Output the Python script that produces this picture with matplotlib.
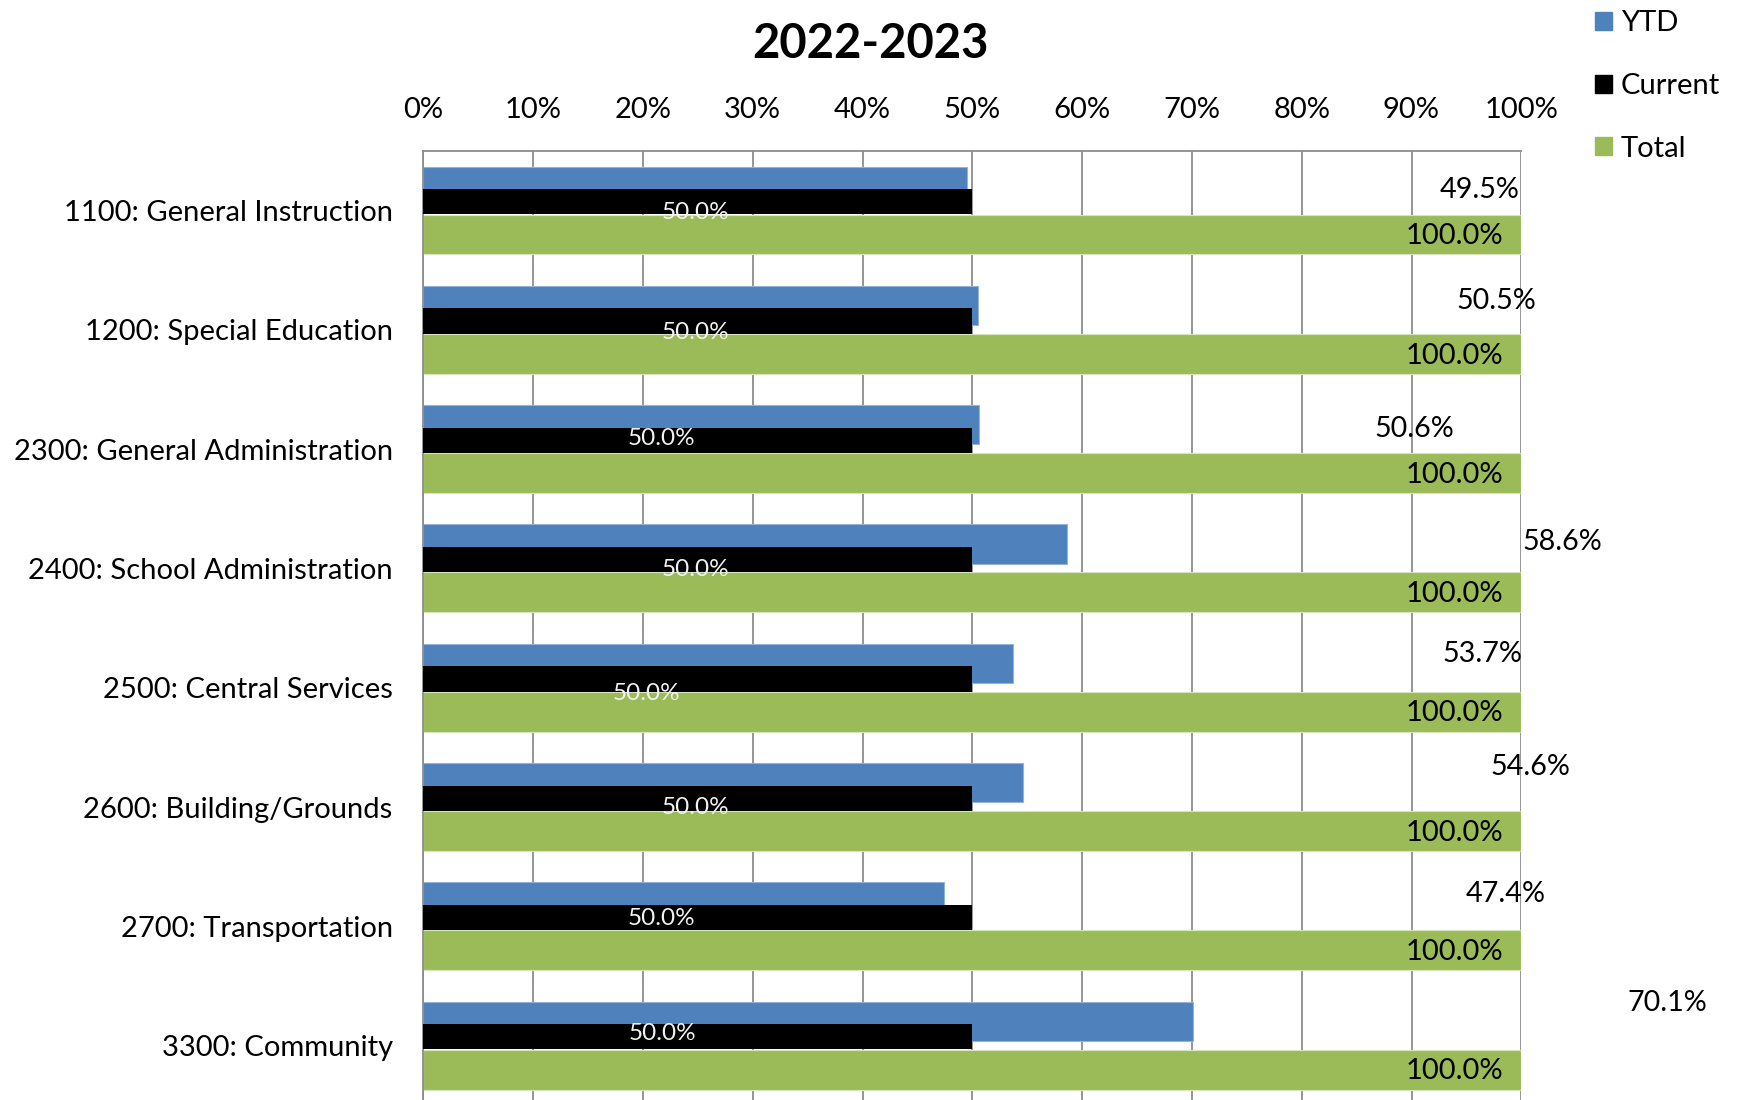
import numpy as np
import matplotlib.pyplot as plt

plt.rcParams['font.family'] = ['Lato', 'DejaVu Sans']

# budget spent per function, 2022-2023
categories = ['1100: General Instruction', '1200: Special Education',
              '2300: General Administration', '2400: School Administration',
              '2500: Central Services', '2600: Building/Grounds',
              '2700: Transportation', '3300: Community']
ytd = [49.5, 50.5, 50.6, 58.6, 53.7, 54.6, 47.4, 70.1]
current = [50.0, 50.0, 50.0, 50.0, 50.0, 50.0, 50.0, 50.0]
total = [100.0, 100.0, 100.0, 100.0, 100.0, 100.0, 100.0, 100.0]

# where the data labels were dragged to (x in %, y offset in category units)
ytd_lbl_x = [96.2, 97.7, 90.3, 103.7, 96.5, 100.8, 98.6, 113.3]
ytd_lbl_dy = [-0.171, -0.241, -0.173, -0.225, -0.285, -0.34, -0.275, -0.36]
cur_lbl_x = [24.8, 24.8, 21.7, 24.8, 20.3, 24.8, 21.7, 21.8]
cur_lbl_dy = [0.015, 0.019, -0.089, 0.007, 0.047, 0.004, -0.067, -0.1]

c_blue = '#4F81BD'
c_green = '#9BBB59'
c_grid = '#8C8C8C'

fig = plt.figure(figsize=(17.38, 11), dpi=100)
ax = fig.add_axes([423.3 / 1738, 1 - 1105.4 / 1100, 1098 / 1738, 954.4 / 1100])

y = np.arange(len(categories))
ax.barh(y - 0.205, ytd, height=0.33, color=c_blue, edgecolor='#95B3D7', linewidth=0.8, zorder=2)
ax.barh(y + 0.2, total, height=0.335, color=c_green, edgecolor='#D7E4BD', linewidth=0.8, zorder=2)
ax.barh(y - 0.075, current, height=0.212, color='black', zorder=3)

for i in range(len(categories)):
    ax.text(ytd_lbl_x[i], y[i] + ytd_lbl_dy[i], f'{ytd[i]:.1f}%', ha='center', va='center',
            fontsize=20.7, color='black', clip_on=False, zorder=5)
    ax.text(cur_lbl_x[i], y[i] + cur_lbl_dy[i], f'{current[i]:.1f}%', ha='center', va='center',
            fontsize=17.5, color='#F2F2F2', zorder=5)
    ax.text(total[i] - 1.6, y[i] + 0.215, f'{total[i]:.1f}%', ha='right', va='center',
            fontsize=21, color='black', zorder=5)

ax.set_xlim(0, 100)
ax.set_ylim(len(categories) - 0.5, -0.5)
ax.set_xticks(np.arange(0, 101, 10))
ax.set_xticklabels([f'{v}%' for v in range(0, 101, 10)])
ax.set_yticks(y)
ax.set_yticklabels(categories)
ax.xaxis.tick_top()
ax.tick_params(axis='x', length=0, pad=20.5, labelsize=21)
ax.tick_params(axis='y', length=0, pad=22, labelsize=21)
ax.grid(axis='x', color=c_grid, linewidth=1.3, zorder=0)
ax.set_axisbelow(True)
for s in ['right', 'bottom']:
    ax.spines[s].set_visible(False)
for s in ['left', 'top']:
    ax.spines[s].set_color(c_grid)
    ax.spines[s].set_linewidth(1.3)

fig.text(871 / 1738, 1 - 44 / 1100, '2022-2023', ha='center', va='center',
         fontsize=34, fontweight='bold')

handles = [plt.Rectangle((0, 0), 1, 1, color=c) for c in [c_blue, 'black', c_green]]
fig.legend(handles, ['YTD', 'Current', 'Total'], loc='upper left',
           bbox_to_anchor=(1569 / 1738, 1 + 16 / 1100), frameon=False, fontsize=21,
           handlelength=0.57, handleheight=0.57, handletextpad=0.3, labelspacing=1.26)

fig.savefig('out.png', dpi=100)
